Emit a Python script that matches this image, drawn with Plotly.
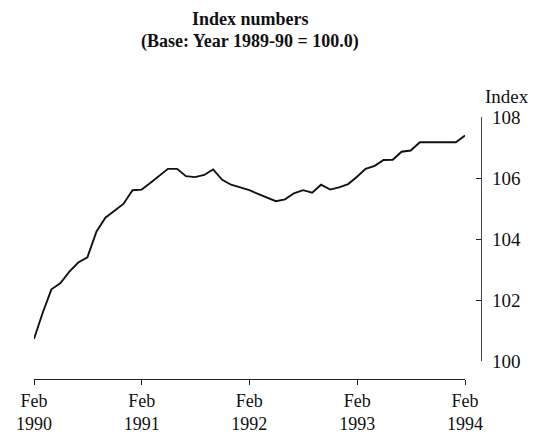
import pandas as pd
import plotly.graph_objects as go

months = pd.date_range("1990-02-01", periods=49, freq="MS")
index_values = [
    100.72, 101.54, 102.35, 102.55, 102.93, 103.23, 103.40, 104.25, 104.70, 104.93,
    105.15, 105.60, 105.62, 105.83, 106.08, 106.30, 106.30, 106.06, 106.03, 106.10,
    106.28, 105.94, 105.78, 105.68, 105.60, 105.48, 105.35, 105.24, 105.30, 105.50,
    105.60, 105.52, 105.78, 105.62, 105.69, 105.80, 106.05, 106.30, 106.40, 106.59,
    106.60, 106.86, 106.90, 107.17, 107.17, 107.17, 107.17, 107.17, 107.39,
]
tick_dates = pd.to_datetime(["1990-02-01", "1991-02-01", "1992-02-01", "1993-02-01", "1994-02-01"])
tick_text = ["Feb<br>1990", "Feb<br>1991", "Feb<br>1992", "Feb<br>1993", "Feb<br>1994"]
y_ticks = [100, 102, 104, 106, 108]
title_line1 = "Index numbers"
title_line2 = "(Base: Year 1989-90 = 100.0)"
y_label = "Index"

W, H = 539, 434
OFF = 8  # page body margin offset


def px(x):
    return (x - OFF) / W


def py(y):
    return 1 - (y - OFF) / H


font = "Liberation Serif"

fig = go.Figure()
fig.add_trace(go.Scatter(x=months, y=index_values, mode="lines",
                         line=dict(color="#111", width=1.9), showlegend=False))

fig.update_layout(
    width=W, height=H,
    margin=dict(l=0, r=0, t=0, b=0),
    paper_bgcolor="white", plot_bgcolor="white",
    font=dict(family=font, color="#111", size=19),
    xaxis=dict(
        domain=[px(34), px(465)],
        range=[months[0], months[-1]],
        anchor="free", position=py(379),
        tickvals=tick_dates, ticktext=tick_text,
        ticks="outside", ticklen=5, tickcolor="#222", tickwidth=1,
        showline=True, linecolor="#222", linewidth=1.2,
        showgrid=False, zeroline=False,
        tickfont=dict(family=font, size=18, color="#111"),
        automargin=False,
    ),
    yaxis=dict(
        domain=[py(361), py(117)],
        range=[100, 108],
        side="right", anchor="free", position=px(481),
        tickvals=y_ticks,
        ticks="inside", ticklen=5, tickcolor="#222", tickwidth=1,
        ticklabelstandoff=6,
        showline=True, linecolor="#444", linewidth=1.2,
        showgrid=False, zeroline=False,
        tickfont=dict(family=font, size=19, color="#111"),
        automargin=False,
    ),
    annotations=[
        dict(text="<b>" + title_line1 + "</b>", x=px(250), y=py(19), xref="paper", yref="paper",
             showarrow=False, xanchor="center", yanchor="middle",
             font=dict(family=font, size=18, color="#111")),
        dict(text="<b>" + title_line2 + "</b>", x=px(250), y=py(41), xref="paper", yref="paper",
             showarrow=False, xanchor="center", yanchor="middle",
             font=dict(family=font, size=18, color="#111")),
        dict(text=y_label, x=px(507), y=py(96), xref="paper", yref="paper",
             showarrow=False, xanchor="center", yanchor="middle",
             font=dict(family=font, size=19, color="#111")),
    ],
)

fig.write_html("out.html")
